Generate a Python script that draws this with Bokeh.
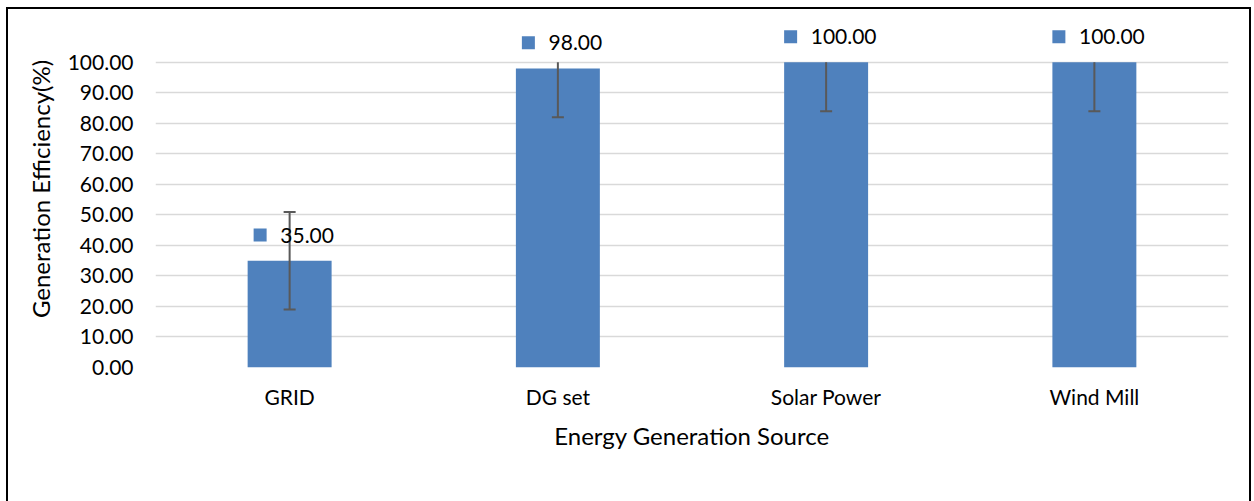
from bokeh.plotting import figure
from bokeh.models import (ColumnDataSource, Range1d, FixedTicker, NumeralTickFormatter,
                          InlineStyleSheet)
from bokeh.core.properties import value
from bokeh.embed import file_html
from bokeh.resources import INLINE

categories = ["GRID", "DG set", "Solar Power", "Wind Mill"]
efficiency = [35.0, 98.0, 100.0, 100.0]
error = [16.0, 16.0, 16.0, 16.0]
y_ticks = [0, 10, 20, 30, 40, 50, 60, 70, 80, 90, 100]
y_max_axis = 100.0

FONT = "Lato"
BLUE = "#4F81BD"
PX_PER_UNIT_X = 1073 / 4.0

xs = [i + 0.5 for i in range(len(categories))]
lower = [v - e for v, e in zip(efficiency, error)]
upper = [min(v + e, y_max_axis) for v, e in zip(efficiency, error)]
labels = ["%.2f" % v for v in efficiency]

p = figure(width=1254, height=501, output_backend="svg", toolbar_location=None,
           x_range=Range1d(0, 4), y_range=Range1d(0, 117),
           frame_width=1073, frame_height=357,
           min_border_left=155, min_border_right=26, min_border_top=10, min_border_bottom=134)
p.outline_line_color = None
p.background_fill_color = "white"
p.border_fill_color = "white"

src = ColumnDataSource(dict(x=xs, v=efficiency, lo=lower, up=upper, lab=labels))
p.vbar(x="x", top="v", width=0.313, bottom=0, source=src, fill_color=BLUE, line_color=None)

# error bars
p.segment(x0="x", y0="lo", x1="x", y1="up", source=src, line_color="#595959", line_width=2)
cap = 6.0 / PX_PER_UNIT_X
p.segment(x0=[x - cap for x in xs], y0=lower, x1=[x + cap for x in xs], y1=lower,
          line_color="#595959", line_width=2)
ucx = [x for x, v, e in zip(xs, efficiency, error) if v + e <= y_max_axis]
ucy = [v + e for v, e in zip(efficiency, error) if v + e <= y_max_axis]
p.segment(x0=[x - cap for x in ucx], y0=ucy, x1=[x + cap for x in ucx], y1=ucy,
          line_color="#595959", line_width=2)

# data labels with legend key squares
lab_y = [v + 8.4 for v in efficiency]
text_w = [12 * sum(c.isdigit() for c in s) + 5 for s in labels]
text_cx = [x + 17.5 / PX_PER_UNIT_X for x in xs]
sq_x = [tc - (w / 2 + 20.5) / PX_PER_UNIT_X for tc, w in zip(text_cx, text_w)]
p.text(x=text_cx, y=lab_y, text=labels, text_align="center", text_baseline="middle",
       text_font=value(FONT), text_font_size="21px", text_color="black")
p.rect(x=sq_x, y=lab_y, width=13, height=13, width_units="screen", height_units="screen",
       fill_color=BLUE, line_color=None)

# axes
p.xaxis.ticker = FixedTicker(ticks=xs)
p.xaxis.major_label_overrides = {x: c for x, c in zip(xs, categories)}
p.yaxis.ticker = FixedTicker(ticks=y_ticks)
p.yaxis.formatter = NumeralTickFormatter(format="0.00")
p.yaxis.bounds = (0, 100)
for ax in (p.xaxis[0], p.yaxis[0]):
    ax.axis_line_color = None
    ax.major_tick_line_color = None
    ax.minor_tick_line_color = None
    ax.major_tick_in = 0
    ax.major_tick_out = 0
    ax.major_label_text_font = FONT
    ax.major_label_text_font_size = "21px"
    ax.major_label_text_color = "black"
    ax.axis_label_text_font = FONT
    ax.axis_label_text_font_style = "normal"
    ax.axis_label_text_color = "black"
    ax.axis_label_text_font_size = "24px"
p.yaxis.major_label_standoff = 22
p.yaxis.axis_label = "Generation Efficiency(%)"
p.yaxis.axis_label_standoff = 10
p.xaxis.major_label_standoff = 16
p.xaxis.axis_label = "Energy Generation Source"
p.xaxis.axis_label_standoff = 9

p.xgrid.grid_line_color = None
p.ygrid.grid_line_color = "#D9D9D9"
p.ygrid.grid_line_width = 1.5

p.stylesheets = [InlineStyleSheet(css="""
:host::after {
  content: "";
  position: absolute;
  left: 6px; top: 7px; width: 1245px; height: 600px;
  border-left: 2px solid black; border-top: 2px solid black; border-right: 2px solid black;
  box-sizing: border-box;
  pointer-events: none;
}
:host { overflow: hidden; }
""")]

open("out.html", "w").write(file_html(p, INLINE))
